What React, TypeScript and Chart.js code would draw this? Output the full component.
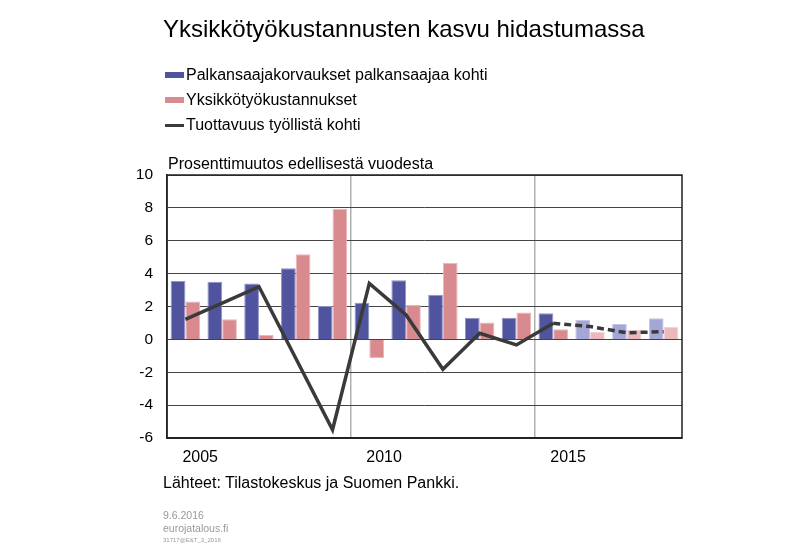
import React, { useEffect, useRef } from "react";
import { Chart, registerables } from "chart.js";

Chart.register(...registerables);

const years = ["2005","2006","2007","2008","2009","2010","2011","2012","2013","2014","2015","2016","2017","2018"];
const shownYears = ["2005", "2010", "2015"];
const compensation = [3.55, 3.5, 3.4, 4.32, 2.03, 2.23, 3.6, 2.72, 1.32, 1.32, 1.59, 1.18, 0.94, 1.28];
const unitLabourCost = [2.3, 1.22, 0.27, 5.18, 7.95, -1.15, 2.09, 4.65, 1.02, 1.63, 0.61, 0.47, 0.57, 0.77];
const productivity = [1.22, 2.2, 3.2, -1.15, -5.5, 3.41, 1.48, -1.82, 0.37, -0.34, 0.98, 0.78, 0.4, 0.47];
const firstForecast = 11;
const dividerIndexes = [5, 10];
const legendLabels = [
  "Palkansaajakorvaukset palkansaajaa kohti",
  "Yksikkötyökustannukset",
  "Tuottavuus työllistä kohti",
];

const BLUE = "#50549f";
const BLUE_LIGHT = "#a4a6d6";
const PINK = "#d98a8e";
const PINK_LIGHT = "#ebb8bb";
const LINE = "#3a3a3a";
const FONT = "'Liberation Sans', Arial, sans-serif";

const frame = {
  id: "frame",
  afterDraw(chart: any) {
    const { ctx, chartArea } = chart;
    ctx.save();
    ctx.strokeStyle = "#222";
    ctx.lineWidth = 1.5;
    ctx.strokeRect(chartArea.left, chartArea.top, chartArea.right - chartArea.left, chartArea.bottom - chartArea.top);
    ctx.restore();
  },
};

export default function App() {
  const ref = useRef<HTMLCanvasElement>(null);
  useEffect(() => {
    if (!ref.current) return;
    const chart = new Chart(ref.current, {
      type: "bar",
      data: {
        labels: years,
        datasets: [
          {
            type: "line",
            label: legendLabels[2],
            data: productivity,
            borderColor: LINE,
            borderWidth: 3.5,
            pointRadius: 0,
            tension: 0,
            order: 0,
            segment: {
              borderDash: (c: any) => (c.p0DataIndex >= firstForecast - 1 ? [7, 4] : undefined),
            },
          } as any,
          {
            label: legendLabels[0],
            data: compensation,
            backgroundColor: compensation.map((_, i) => (i >= firstForecast ? BLUE_LIGHT : BLUE)),
            borderColor: compensation.map((_, i) => (i >= firstForecast ? "#c3c5e6" : "#8f92c6")),
            borderWidth: 1,
            order: 1,
          },
          {
            label: legendLabels[1],
            data: unitLabourCost,
            backgroundColor: unitLabourCost.map((_, i) => (i >= firstForecast ? PINK_LIGHT : PINK)),
            borderColor: unitLabourCost.map((_, i) => (i >= firstForecast ? "#f3d2d4" : "#e9b6b9")),
            borderWidth: 1,
            order: 1,
          },
        ],
      },
      options: {
        animation: false,
        responsive: false,
        maintainAspectRatio: false,
        datasets: { bar: { categoryPercentage: 0.8, barPercentage: 1.0 } },
        layout: { padding: { left: 100, top: 175, right: 118, bottom: 87 } },
        plugins: { legend: { display: false }, tooltip: { enabled: false }, title: { display: false } },
        scales: {
          x: {
            offset: true,
            afterFit: (s: any) => { s.height = 30; },
            grid: {
              offset: true,
              drawTicks: false,
              lineWidth: 1.5,
              color: (c: any) => (dividerIndexes.includes(c.index) ? "#b0b0b0" : "rgba(0,0,0,0)"),
            },
            border: { display: true, color: "#222", width: 1.5 },
            ticks: {
              autoSkip: false,
              maxRotation: 0,
              align: "start",
              labelOffset: -3,
              padding: 10,
              color: "#000",
              font: { family: FONT, size: 16 },
              callback: (_v: any, i: number) => (shownYears.includes(years[i]) ? years[i] : ""),
            },
          },
          y: {
            min: -6,
            max: 10,
            afterFit: (s: any) => { s.width = 67; },
            grid: { color: "#444", lineWidth: 1, drawTicks: false },
            border: { display: true, color: "#222", width: 1.5 },
            ticks: {
              stepSize: 2,
              padding: 14,
              color: "#000",
              font: { family: FONT, size: 15.5 },
            },
          },
        },
      },
      plugins: [frame],
    });
    return () => chart.destroy();
  }, []);

  const text: React.CSSProperties = { position: "absolute", fontFamily: FONT, color: "#000", whiteSpace: "nowrap", lineHeight: "1" };
  const swatchColors = [BLUE, PINK];

  return (
    <div style={{ position: "absolute", left: 0, top: 0, width: 800, height: 555, background: "#fff", overflow: "hidden" }}>
      <canvas ref={ref} width={800} height={555} style={{ position: "absolute", left: 0, top: 0, width: 800, height: 555 }} />
      <div style={{ ...text, left: 163, top: 17, fontSize: 24 }}>Yksikkötyökustannusten kasvu hidastumassa</div>
      {legendLabels.map((l, i) => (
        <div key={l} style={{ position: "absolute", left: 165, top: 66 + i * 25, height: 18, display: "flex", alignItems: "center" }}>
          {i < 2 ? (
            <div style={{ width: 19, height: 6, background: swatchColors[i] }} />
          ) : (
            <div style={{ width: 19, height: 3, background: LINE }} />
          )}
          <span style={{ fontFamily: FONT, fontSize: 16, marginLeft: 2, lineHeight: "1" }}>{l}</span>
        </div>
      ))}
      <div style={{ ...text, left: 168, top: 156, fontSize: 16 }}>Prosenttimuutos edellisestä vuodesta</div>
      <div style={{ ...text, left: 163, top: 475, fontSize: 16 }}>Lähteet: Tilastokeskus ja Suomen Pankki.</div>
      <div style={{ ...text, left: 163, top: 510, fontSize: 10.5, color: "#999" }}>9.6.2016</div>
      <div style={{ ...text, left: 163, top: 523, fontSize: 10.5, color: "#999" }}>eurojatalous.fi</div>
      <div style={{ ...text, left: 163, top: 537, fontSize: 6, color: "#999" }}>31717@E&amp;T_3_2016</div>
    </div>
  );
}
